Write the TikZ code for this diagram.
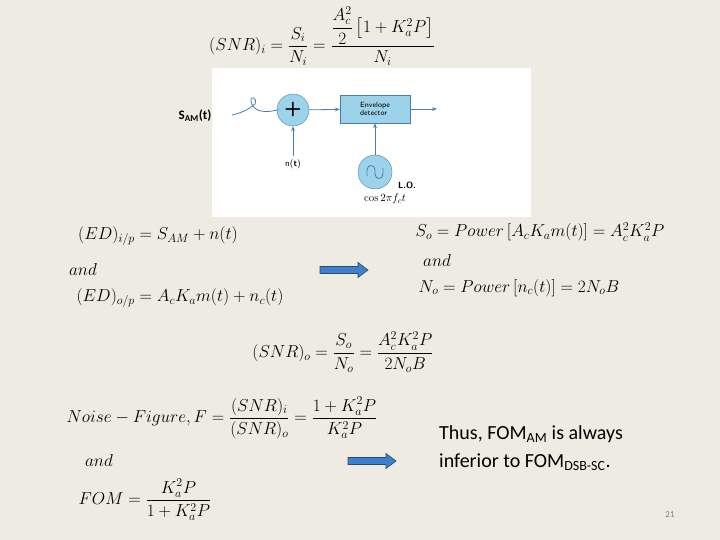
\documentclass[tikz,border=0pt]{standalone}
\usepackage{fontspec}
\usepackage{amsmath}
\newfontfamily\calfnt{Carlito}
\usetikzlibrary{arrows.meta}
\definecolor{bg}{HTML}{EEEBE3}
\definecolor{lb}{HTML}{9DD3EA}
\definecolor{ln}{HTML}{4A7EAA}
\definecolor{arf}{HTML}{3F7FD0}
\tikzset{eq/.style={inner sep=0pt,font=\fontsize{16.5}{19}\selectfont},
 wire/.style={draw=ln,line width=0.8pt,-{Stealth[length=5pt]}},
 bigarrow/.style={draw=ln!60!black,fill=arf,line width=0.6pt},
 txt/.style={font=\calfnt\fontsize{20}{24}\selectfont,align=left,anchor=west,inner sep=0pt}}
\newcommand{\bigarr}[1]{\path[bigarrow] (#1) ++(-24,-3.5) -- ++(38,0) -- ++(0,-4) -- ++(10,7.5) -- ++(-10,7.5) -- ++(0,-4) -- ++(-38,0) -- cycle;}
\begin{document}
\begin{tikzpicture}[x=1pt,y=-1pt]
\fill[bg] (0,0) rectangle (720,540);
\useasboundingbox (0,0) rectangle (720,540);
\node[eq] (snri) at (322,36) {$(SNR)_i=\dfrac{S_i}{N_i}=\dfrac{\dfrac{A_c^2}{2}\left[1+K_a^2P\right]}{N_i}$};
\fill[white] (212,68) rectangle (531,217);
\node[font=\calfnt\bfseries\fontsize{13}{15}\selectfont] (sam) at (195,116) {S$_{\text{AM}}$(t)};
\node[circle,draw=ln,fill=lb,minimum size=32pt,inner sep=0pt,font=\sffamily\bfseries\fontsize{20}{20}\selectfont] (sum) at (293,110) {+};
\node[draw=ln,fill=lb,minimum width=70pt,minimum height=28pt,align=left,font=\sffamily\fontsize{7.5}{8.5}\selectfont] (env) at (375,109) {Envelope\\detector};
\coordinate (out) at (437,109);
\coordinate (in) at (232,115);
\draw[draw=ln,line width=0.8pt] (in) .. controls (245,112) and (250,108) .. (255,104) .. controls (258,98) and (250,95) .. (251,101) .. controls (252,110) and (262,114) .. (277,110) -- (sum);
\draw[wire] (sum) -- (env);
\draw[wire] (env) -- (out);
\node[font=\sffamily\fontsize{9}{10}\selectfont] (nt) at (293,164) {n(\textbf{t})};
\draw[wire] (nt.north) -- (sum);
\node[circle,draw=ln,fill=lb,minimum size=34pt,inner sep=0pt] (lo) at (375,172) {};
\draw[ln,line width=0.8pt] (367,176) -- (367,170) .. controls (367,164) and (375,164) .. (375,170) -- (375,174) .. controls (375,180) and (383,180) .. (383,174) -- (383,168);
\draw[wire] (lo) -- (env);
\node[font=\sffamily\bfseries\fontsize{9}{10}\selectfont] (lol) at (407,185) {L.O.};
\node[font=\fontsize{11}{12}\selectfont] (cos) at (385,199) {$\cos 2\pi f_c t$};
\node[eq] (edi) at (158,236) {$(ED)_{i/p}=S_{AM}+n(t)$};
\node[eq] (and1) at (83,269) {$and$};
\node[eq] (edo) at (180,298) {$(ED)_{o/p}=A_cK_am(t)+n_c(t)$};
\coordinate (a1) at (344,270);
\bigarr{a1}
\node[eq] (so) at (540,232) {$S_o=Power\left[A_cK_am(t)\right]=A_c^2K_a^2P$};
\node[eq] (and2) at (437,260) {$and$};
\node[eq] (no) at (519,288) {$N_o=Power\left[n_c(t)\right]=2N_oB$};
\node[eq] (snro) at (343,352) {$(SNR)_o=\dfrac{S_o}{N_o}=\dfrac{A_c^2K_a^2P}{2N_oB}$};
\node[eq] (nf) at (222,418) {$Noise-Figure,F=\dfrac{(SNR)_i}{(SNR)_o}=\dfrac{1+K_a^2P}{K_a^2P}$};
\node[eq] (and3) at (99,460) {$and$};
\node[eq] (fom) at (145,500) {$FOM=\dfrac{K_a^2P}{1+K_a^2P}$};
\coordinate (a2) at (372,461);
\bigarr{a2}
\node[txt] (t1) at (439,434) {Thus, FOM\textsubscript{AM} is always};
\node[txt] (t2) at (439,462) {inferior to FOM\textsubscript{DSB-SC}.};
\node[font=\calfnt\fontsize{9}{10}\selectfont,text=gray] (pg) at (670,515) {21};
\end{tikzpicture}
\end{document}
